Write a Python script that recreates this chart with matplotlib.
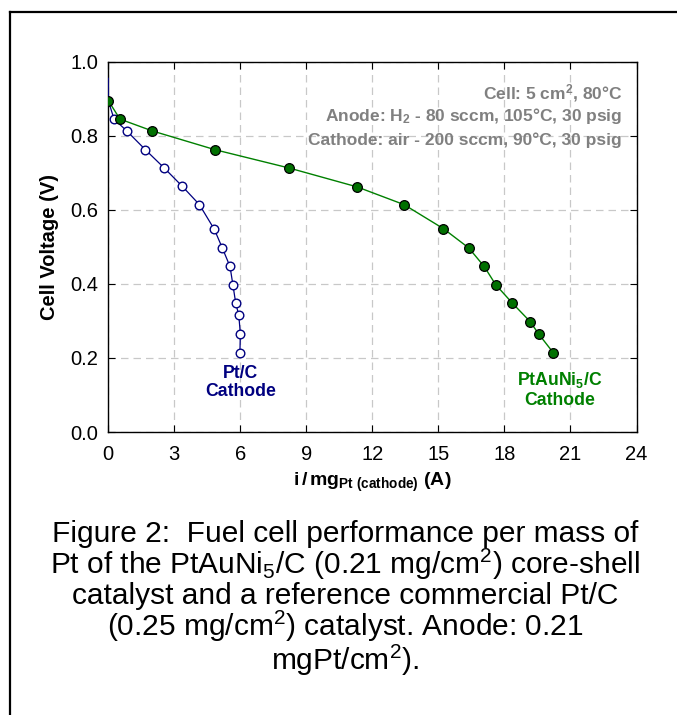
import matplotlib
matplotlib.use("Agg")
import matplotlib.pyplot as plt
from matplotlib.lines import Line2D

plt.rcParams['font.family'] = ['Liberation Sans', 'DejaVu Sans']
plt.rcParams['mathtext.fontset'] = 'custom'
plt.rcParams['mathtext.rm'] = 'Liberation Sans'
plt.rcParams['mathtext.it'] = 'Liberation Sans:italic'
plt.rcParams['mathtext.bf'] = 'Liberation Sans:bold'

# Pt/C cathode (open navy circles); first point is the line start (OCV) without marker
ptc_x = [0.0, 0.0, 0.26, 0.84, 1.69, 2.54, 3.37, 4.14, 4.82, 5.18, 5.53, 5.66, 5.79, 5.93, 6.0, 5.98]
ptc_y = [0.955, 0.895, 0.845, 0.813, 0.762, 0.713, 0.663, 0.614, 0.547, 0.497, 0.447, 0.398, 0.348, 0.315, 0.265, 0.214]

# PtAuNi5/C cathode (filled green circles)
pan_x = [0.0, 0.53, 2.0, 4.87, 8.21, 11.3, 13.44, 15.23, 16.38, 17.08, 17.6, 18.36, 19.17, 19.55, 20.22]
pan_y = [0.895, 0.845, 0.813, 0.762, 0.713, 0.662, 0.614, 0.549, 0.497, 0.447, 0.398, 0.348, 0.298, 0.265, 0.214]

x_ticks = [0, 3, 6, 9, 12, 15, 18, 21, 24]
y_ticks = [0.0, 0.2, 0.4, 0.6, 0.8, 1.0]

W, H = 677, 715
fig = plt.figure(figsize=(W / 100, H / 100), dpi=100)

# outer frame (left and top)
fig.add_artist(Line2D([10 / W, 10 / W], [0, 1 - 12 / H], color='black', lw=1.6, transform=fig.transFigure))
fig.add_artist(Line2D([10 / W, 1], [1 - 12 / H, 1 - 12 / H], color='black', lw=1.6, transform=fig.transFigure))

ax = fig.add_axes([108.3 / W, 1 - 432 / H, (636.5 - 108.3) / W, (432 - 61.7) / H])

navy = '#000080'
green = '#008000'

ax.plot(ptc_x, ptc_y, color=navy, lw=0.9, marker='o', markersize=6.2,
        markerfacecolor='white', markeredgecolor=navy, markeredgewidth=1.0,
        markevery=list(range(1, len(ptc_x))), zorder=3)
ax.plot(pan_x, pan_y, color=green, lw=1.0, marker='o', markersize=7,
        markerfacecolor='#007000', markeredgecolor='black', markeredgewidth=0.9, zorder=4)

ax.set_xlim(0, 24)
ax.set_ylim(0, 1.0)
ax.set_xticks(x_ticks)
ax.set_yticks(y_ticks)
ax.set_yticklabels([f"{v:.1f}" for v in y_ticks])
ax.tick_params(direction='in', length=5, width=0.8, top=True, right=True,
               labelsize=14.5, color='black')
ax.tick_params(axis='y', pad=7)
ax.tick_params(axis='x', pad=9)
ax.grid(True, color='#c8c8c8', linestyle=(0, (6, 4)), linewidth=0.9)
ax.set_axisbelow(True)
for s in ax.spines.values():
    s.set_linewidth(1.0)

ax.set_xlabel(r"$\mathbf{i\,/\,mg_{Pt\ (cathode)}\ (A)}$", fontsize=14, labelpad=5)
ax.set_ylabel("Cell Voltage (V)", fontsize=14.5, fontweight='bold', labelpad=8)

gray = '#808080'
ax.text(0.9726, 0.915, r"Cell: 5 cm$^{\mathbf{2}}$, 80°C", transform=ax.transAxes, ha='right', va='center',
        fontsize=12.5, fontweight='bold', color=gray)
ax.text(0.9726, 0.854, r"Anode: H$_{\mathbf{2}}$ - 80 sccm, 105°C, 30 psig", transform=ax.transAxes, ha='right', va='center',
        fontsize=12.5, fontweight='bold', color=gray)
ax.text(0.9726, 0.789, "Cathode: air - 200 sccm, 90°C, 30 psig", transform=ax.transAxes, ha='right', va='center',
        fontsize=12.5, fontweight='bold', color=gray)

ax.text(6.0, 0.133, "Pt/C\nCathode", ha='center', va='center', fontsize=12.7, fontweight='bold',
        color=navy, linespacing=1.1)
ax.text(20.5, 0.115, r"PtAuNi$_{\mathbf{5}}$/C" + "\nCathode", ha='center', va='center', fontsize=12.7,
        fontweight='bold', color=green, linespacing=1.2)

caption = [
    "Figure 2:  Fuel cell performance per mass of",
    r"Pt of the PtAuNi$_5$/C (0.21 mg/cm$^2$) core-shell",
    "catalyst and a reference commercial Pt/C",
    r"(0.25 mg/cm$^2$) catalyst. Anode: 0.21",
    r"mgPt/cm$^2$).",
]
fig.text(345 / W, 1 - 599 / H, "\n".join(caption), ha='center', va='center',
         multialignment='center', fontsize=21.5, color='black', linespacing=0.96)

fig.savefig("out.png", dpi=100)
